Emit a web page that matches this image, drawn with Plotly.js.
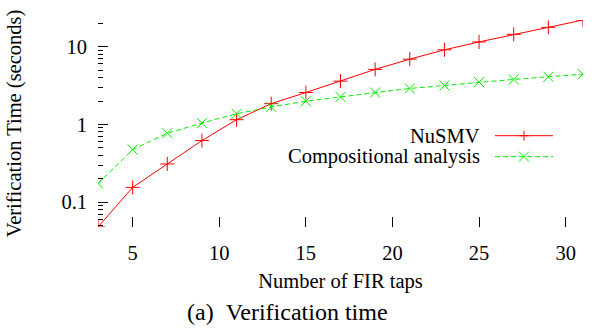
<!DOCTYPE html>
<html>
<head>
<meta charset="utf-8">
<script src="https://cdn.plot.ly/plotly-3.0.1.min.js"></script>
<style>
html,body{margin:0;padding:0;background:#fff;}
#chart{width:607px;height:333px;}
</style>
</head>
<body>
<div id="chart"></div>
<script>
// ---- data ----
const taps = [3, 5, 7, 9, 11, 13, 15, 17, 19, 21, 23, 25, 27, 29, 31];
const nusmvTime = [0.048, 0.155, 0.31, 0.62, 1.15, 1.85, 2.57, 3.6, 5.1, 6.9, 9.1, 11.5, 14.4, 17.7, 22.0];
const compTime = [0.174, 0.475, 0.77, 1.04, 1.37, 1.68, 1.99, 2.26, 2.57, 2.9, 3.17, 3.5, 3.79, 4.1, 4.43];
const seriesNames = ["NuSMV", "Compositional analysis"];
const xTickVals = [5, 10, 15, 20, 25, 30];
const yTickVals = [0.1, 1, 10];
const yTickText = ["0.1", "1", "10"];
const xTitle = "Number of FIR taps";
const yTitle = "Verification Time (seconds)";
const caption = "(a)\u2002Verification time";

// minor log ticks (2..9 per decade)
const yMinor = [];
[0.01, 0.1, 1, 10].forEach(d => { for (let k = 2; k <= 9; k++) yMinor.push(+(k * d).toPrecision(3)); });

const RED = "#ff0000", GREEN = "#00f000";
const FONT = "Liberation Serif, Times New Roman, serif";
const FS = 20.5;

const allY = nusmvTime.concat(compTime);
const yMin = Math.min(...allY), yMax = Math.max(...allY);

const traces = [
  {x: taps, y: nusmvTime, name: seriesNames[0], type: "scatter", mode: "lines+markers",
   line: {color: RED, width: 1}, marker: {symbol: "cross-thin", size: 10, line: {color: RED, width: 1}}},
  {x: taps, y: compTime, name: seriesNames[1], type: "scatter", mode: "lines+markers",
   line: {color: GREEN, width: 1, dash: "5px,3px"}, marker: {symbol: "x-thin", size: 10, line: {color: GREEN, width: 1}}}
];

// gnuplot-style key: text right-aligned, sample on the right
const keyTextX = 0.792, keySampleX0 = 0.8186, keySampleX1 = 0.938;
const keyY = [0.441, 0.340];
const mx = 5 / 485, my = 5 / 207;
const keyMid = (keySampleX0 + keySampleX1) / 2;
const shapes = [
  {type: "line", xref: "paper", yref: "paper", x0: keySampleX0, x1: keySampleX1, y0: keyY[0], y1: keyY[0], line: {color: RED, width: 1}},
  {type: "line", xref: "paper", yref: "paper", x0: keyMid - mx, x1: keyMid + mx, y0: keyY[0], y1: keyY[0], line: {color: RED, width: 1}},
  {type: "line", xref: "paper", yref: "paper", x0: keyMid, x1: keyMid, y0: keyY[0] - my, y1: keyY[0] + my, line: {color: RED, width: 1}},
  {type: "line", xref: "paper", yref: "paper", x0: keySampleX0, x1: keySampleX1, y0: keyY[1], y1: keyY[1], line: {color: GREEN, width: 1, dash: "5px,3px"}},
  {type: "line", xref: "paper", yref: "paper", x0: keyMid - mx, x1: keyMid + mx, y0: keyY[1] - my, y1: keyY[1] + my, line: {color: GREEN, width: 1}},
  {type: "line", xref: "paper", yref: "paper", x0: keyMid - mx, x1: keyMid + mx, y0: keyY[1] + my, y1: keyY[1] - my, line: {color: GREEN, width: 1}}
];
const annotations = seriesNames.map((n, i) => ({
  text: n, xref: "paper", yref: "paper", x: keyTextX, y: keyY[i], xanchor: "right", yanchor: "middle",
  showarrow: false, font: {family: FONT, size: FS, color: "#000"}
}));
annotations.push({text: caption, xref: "paper", yref: "paper", x: (287 - 98) / 485, y: -0.41,
  xanchor: "center", yanchor: "middle", showarrow: false, font: {family: FONT, size: 24, color: "#000"}});

const layout = {
  width: 607, height: 333,
  margin: {l: 98, r: 24, t: 20, b: 106},
  paper_bgcolor: "#fff", plot_bgcolor: "#fff",
  showlegend: false,
  font: {family: FONT, size: FS, color: "#000"},
  xaxis: {
    range: [Math.min(...taps), Math.max(...taps)], tickvals: xTickVals,
    ticks: "inside", ticklen: 10, tickwidth: 1, tickcolor: "#000",
    showline: false, showgrid: false, zeroline: false,
    ticklabelstandoff: 11,
    tickfont: {family: FONT, size: FS},
    title: {text: xTitle, font: {family: FONT, size: FS}, standoff: 11}
  },
  yaxis: {
    type: "log", range: [Math.log10(yMin), Math.log10(yMax)],
    tickvals: yTickVals, ticktext: yTickText,
    ticks: "inside", ticklen: 10, tickwidth: 1, tickcolor: "#000",
    minor: {tickvals: yMinor, ticks: "inside", ticklen: 5, tickwidth: 1, tickcolor: "#000", showgrid: false},
    showline: false, showgrid: false, zeroline: false,
    ticklabelstandoff: 10,
    tickfont: {family: FONT, size: FS},
    title: {text: yTitle, font: {family: FONT, size: FS}, standoff: 34}
  },
  shapes: shapes,
  annotations: annotations
};

Plotly.newPlot("chart", traces, layout, {staticPlot: true, displayModeBar: false});
</script>
</body>
</html>
